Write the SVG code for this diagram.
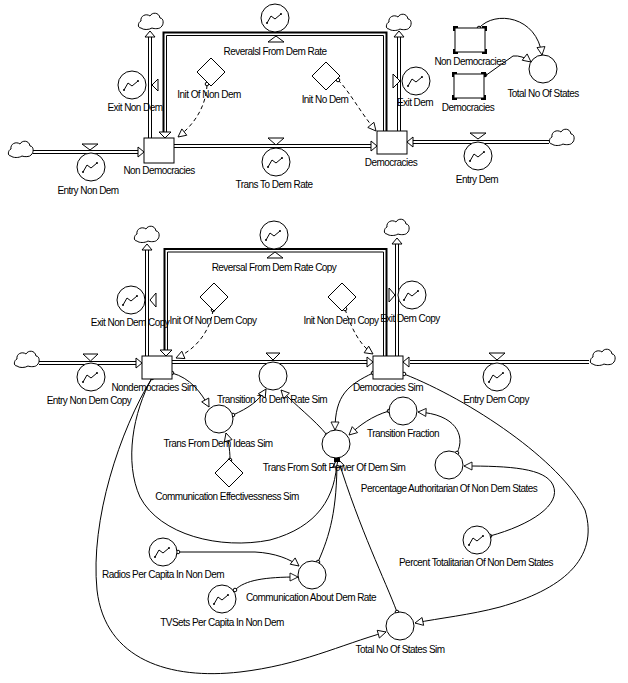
<svg xmlns="http://www.w3.org/2000/svg" xmlns:xlink="http://www.w3.org/1999/xlink" width="628" height="683" viewBox="0 0 628 683">
<style>
text{font-family:"Liberation Sans",Arial,sans-serif;font-size:10px;letter-spacing:-0.55px;text-anchor:middle;fill:#000}
.po{fill:none;stroke:#000;stroke-width:4}
.pi{fill:none;stroke:#fff;stroke-width:2}
.ro{fill:none;stroke:#000;stroke-width:2}
.ri{fill:none;stroke:#000;stroke-width:1}
.ah{fill:#fff;stroke:#000;stroke-width:1}
.stock{fill:#fff;stroke:#000;stroke-width:1}
.aux{fill:#fff;stroke:#000;stroke-width:1}
.cloud{fill:#fff;stroke:#000;stroke-width:1}
.c{fill:none;stroke:#000;stroke-width:1;marker-end:url(#arr)}
.d{fill:none;stroke:#000;stroke-width:1;stroke-dasharray:4 3;marker-end:url(#arr)}
.dot{fill:#fff;stroke:#000;stroke-width:1}
</style>
<defs>
<marker id="arr" viewBox="0 0 10 10" refX="10" refY="5" markerWidth="9" markerHeight="8" markerUnits="userSpaceOnUse" orient="auto" overflow="visible"><path d="M0,0 L10,5 L0,10 z" fill="#fff" stroke="#000" stroke-width="1.1"/></marker>
<g id="gr"><polyline points="-8,5 -4,-2 0,1 6,-4" fill="none" stroke="#000" stroke-width="1"/><circle cx="-8" cy="5" r="1" fill="#000"/><circle cx="6" cy="-4" r="1" fill="#000"/></g>
<path id="cl" d="M-10,7 C-14,7 -13,1 -10,0 C-11,-5 -5,-8 -1,-5 C1,-9 8,-9 9,-3 C13,-3 13,4 10,6 C9,8 3,8 1,7 C-2,9 -8,9 -10,7 Z"/>
<path id="p1" d="M33,152 H140"/>
<path id="p2" d="M150,138 V36"/>
<path id="p4" d="M174,146 H372"/>
<path id="p5" d="M399,131 V36"/>
<path id="p6" d="M549,142 H413"/>
<path id="q1" d="M39,363 H136"/>
<path id="q2" d="M147,356 V249"/>
<path id="q4" d="M172,362 H367"/>
<path id="q5" d="M397,356 V243"/>
<path id="q6" d="M589,362 H410"/>
</defs>
<rect width="628" height="683" fill="#fff"/>

<g id="flows">
<use href="#p1" class="po"/><use href="#p1" class="pi"/>
<use href="#p2" class="po"/><use href="#p2" class="pi"/>
<path class="ro" d="M386.5,131 V32.5 H163.5 V132"/><path class="ri" d="M383.5,131 V35.5 H166.5 V132"/>
<use href="#p4" class="po"/><use href="#p4" class="pi"/>
<use href="#p5" class="po"/><use href="#p5" class="pi"/>
<use href="#p6" class="po"/><use href="#p6" class="pi"/>
<use href="#q1" class="po"/><use href="#q1" class="pi"/>
<use href="#q2" class="po"/><use href="#q2" class="pi"/>
<path class="ro" d="M386.5,356 V249 H164.5 V350"/><path class="ri" d="M383.5,356 V252 H167.5 V350"/>
<use href="#q4" class="po"/><use href="#q4" class="pi"/>
<use href="#q5" class="po"/><use href="#q5" class="pi"/>
<use href="#q6" class="po"/><use href="#q6" class="pi"/>
<polygon class="ah" points="144,152 138,147 138,157"/>
<polygon class="ah" points="150,31 145,37 155,37"/>
<polygon class="ah" points="165,138 159,132 171,132"/>
<polygon class="ah" points="377,146 371,141 371,151"/>
<polygon class="ah" points="399,31 394,37 404,37"/>
<polygon class="ah" points="407,142 413,137 413,147"/>
<polygon class="ah" points="142,363 136,358 136,368"/>
<polygon class="ah" points="147,244 142,250 152,250"/>
<polygon class="ah" points="166,356 160,350 172,350"/>
<polygon class="ah" points="373,362 367,357 367,367"/>
<polygon class="ah" points="397,238 392,244 402,244"/>
<polygon class="ah" points="403,362 409,357 409,367"/>
</g>

<g id="connectors">
<path class="d" d="M207,85 C206,105 196,123 178,137"/>
<path class="d" d="M338,80 C350,92 360,112 376,131"/>
<path class="c" d="M479,28 C495,10 537,16 542,55"/>
<path class="c" d="M485,76 L513,56 Q522,55 531,62"/>
<path class="d" d="M213,310 C210,332 195,350 176,358"/>
<path class="d" d="M345,309 C352,330 360,345 373,354"/>
<path class="c" d="M172,373 C190,378 201,392 209,407"/>
<path class="c" d="M233,415 C248,408 258,402 266,389"/>
<path class="c" d="M230,460 C230,448 228,440 226,433"/>
<path class="c" d="M327,435 C315,420 295,405 281,390"/>
<path class="c" d="M373,373 C348,385 335,395 335,430"/>
<path class="c" d="M389,411 C372,416 360,425 349,435"/>
<path class="c" d="M457,453 C466,435 455,414 418,412"/>
<path class="c" d="M490,536 C530,525 562,505 553,485 C545,468 510,466 464,466"/>
<path class="c" d="M404,374 C470,400 560,460 585,510 C600,560 560,590 500,607 C470,615 440,618 415,623"/>
<path class="c" d="M152,378 C133,412 124,462 140,497 C160,535 220,550 270,540 C318,527 336,497 337,459"/>
<path class="c" d="M318,562 C330,535 337,510 337,459"/>
<path class="c" d="M397,612 C385,580 360,530 338,459"/>
<path class="c" d="M152,378 C120,430 90,520 97,590 C105,660 170,680 240,672 C300,665 340,645 386,632"/>
<path class="c" d="M178,552 L255,552 C275,553 290,559 299,566"/>
<path class="c" d="M235,590 C245,580 265,577 298,577"/>
<rect x="334" y="456" width="6" height="6" fill="#000"/>
<circle class="dot" cx="207" cy="84" r="1.8"/>
<circle class="dot" cx="338" cy="80" r="1.8"/>
<circle class="dot" cx="479" cy="28" r="1.8"/>
<circle class="dot" cx="485" cy="75" r="1.8"/>
<circle class="dot" cx="213" cy="310" r="1.8"/>
<circle class="dot" cx="345" cy="309" r="1.8"/>
<circle class="dot" cx="172" cy="373" r="1.8"/>
<circle class="dot" cx="152" cy="378" r="1.8"/>
<circle class="dot" cx="373" cy="373" r="1.8"/>
<circle class="dot" cx="404" cy="374" r="1.8"/>
<circle class="dot" cx="233" cy="415" r="1.8"/>
<circle class="dot" cx="230" cy="460" r="1.8"/>
<circle class="dot" cx="327" cy="435" r="1.8"/>
<circle class="dot" cx="389" cy="411" r="1.8"/>
<circle class="dot" cx="457" cy="453" r="1.8"/>
<circle class="dot" cx="490" cy="536" r="1.8"/>
<circle class="dot" cx="318" cy="562" r="1.8"/>
<circle class="dot" cx="397" cy="612" r="1.8"/>
<circle class="dot" cx="178" cy="552" r="1.8"/>
<circle class="dot" cx="235" cy="590" r="1.8"/>
</g>

<!-- clouds -->
<g id="cloud-entry-nondem"><use href="#cl" class="cloud" x="21" y="149"/></g>
<g id="cloud-exit-nondem"><use href="#cl" class="cloud" x="151" y="21"/></g>
<g id="cloud-exit-dem"><use href="#cl" class="cloud" x="399" y="22"/></g>
<g id="cloud-entry-dem"><use href="#cl" class="cloud" x="562" y="137"/></g>
<g id="cloud-entry-nondem-copy"><use href="#cl" class="cloud" x="27" y="359"/></g>
<g id="cloud-exit-nondem-copy"><use href="#cl" class="cloud" x="147" y="234"/></g>
<g id="cloud-exit-dem-copy"><use href="#cl" class="cloud" x="397" y="227"/></g>
<g id="cloud-entry-dem-copy"><use href="#cl" class="cloud" x="603" y="357"/></g>

<!-- top model -->
<g id="NonDemocracies"><rect class="stock" x="144" y="138" width="30" height="25"/><text x="159" y="174">Non Democracies</text></g>
<g id="Democracies"><rect class="stock" x="377" y="131" width="30" height="23"/><text x="391" y="166">Democracies</text></g>
<g id="EntryNonDem"><polygon class="ah" points="82,144 98,144 90,150"/><circle class="aux" cx="91" cy="167" r="14"/><use href="#gr" x="91" y="167"/><text x="88" y="194">Entry Non Dem</text></g>
<g id="ExitNonDem"><polygon class="ah" points="152,85 158,79 158,91"/><circle class="aux" cx="132" cy="85" r="14"/><use href="#gr" x="132" y="85"/><text x="135" y="111">Exit Non Dem</text></g>
<g id="ReveralslFromDemRate"><polygon class="ah" points="276,36 268,42 284,42"/><circle class="aux" cx="275" cy="18" r="14"/><use href="#gr" x="275" y="18"/><text x="275" y="55">Reveralsl From Dem Rate</text></g>
<g id="TransToDemRate"><polygon class="ah" points="268,138 284,138 276,145"/><circle class="aux" cx="276" cy="162" r="14"/><use href="#gr" x="276" y="162"/><text x="274" y="188">Trans To Dem Rate</text></g>
<g id="ExitDem"><polygon class="ah" points="393,74 393,88 400,81"/><circle class="aux" cx="416" cy="81" r="14"/><use href="#gr" x="416" y="81"/><text x="415" y="106">Exit Dem</text></g>
<g id="EntryDem"><polygon class="ah" points="470,133 486,133 478,139"/><circle class="aux" cx="478" cy="156" r="14"/><use href="#gr" x="478" y="156"/><text x="477" y="183">Entry Dem</text></g>
<g id="InitOfNonDem"><polygon class="aux" points="211,58 225,72 211,86 197,72"/><text x="209" y="98">Init Of Non Dem</text></g>
<g id="InitNoDem"><polygon class="aux" points="326,62 340,76 326,90 312,76"/><text x="325" y="103">Init No Dem</text></g>
<g id="GhostNonDemocracies"><rect class="stock" x="455" y="28" width="30" height="24"/><path d="M454,31 V27 H458 M482,27 H486 V31 M486,49 V53 H482 M458,53 H454 V49" fill="none" stroke="#000" stroke-width="2"/><text x="470" y="65">Non Democracies</text></g>
<g id="GhostDemocracies"><rect class="stock" x="454" y="74" width="30" height="24"/><path d="M453,77 V73 H457 M481,73 H485 V77 M485,95 V99 H481 M457,99 H453 V95" fill="none" stroke="#000" stroke-width="2"/><text x="468" y="111">Democracies</text></g>
<g id="TotalNoOfStates"><circle class="aux" cx="543" cy="69" r="14"/><text x="543" y="97">Total No Of States</text></g>

<!-- bottom model -->
<g id="NondemocraciesSim"><rect class="stock" x="142" y="356" width="30" height="23"/><text x="154" y="391">Nondemocracies Sim</text></g>
<g id="DemocraciesSim"><rect class="stock" x="373" y="356" width="30" height="23"/><text x="388" y="391">Democracies Sim</text></g>
<g id="EntryNonDemCopy"><polygon class="ah" points="83,354 98,354 90.5,361"/><circle class="aux" cx="91" cy="377" r="14"/><use href="#gr" x="91" y="377"/><text x="89" y="404">Entry Non Dem Copy</text></g>
<g id="ExitNonDemCopy"><polygon class="ah" points="150,300 156,293 156,307"/><circle class="aux" cx="131" cy="300" r="14"/><use href="#gr" x="131" y="300"/><text x="130" y="326">Exit Non Dem Copy</text></g>
<g id="ReversalFromDemRateCopy"><polygon class="ah" points="275,252 267,258 283,258"/><circle class="aux" cx="274" cy="235" r="14"/><use href="#gr" x="274" y="235"/><text x="274" y="271">Reversal From Dem Rate Copy</text></g>
<g id="TransitionToDemRateSim"><polygon class="ah" points="266,353 280,353 273,360"/><circle class="aux" cx="273" cy="376" r="14"/><text x="272" y="403">Transition To Dem Rate Sim</text></g>
<g id="ExitDemCopy"><polygon class="ah" points="389,288 389,302 395,295"/><circle class="aux" cx="412" cy="295" r="14"/><use href="#gr" x="412" y="295"/><text x="410" y="322">Exit Dem Copy</text></g>
<g id="EntryDemCopy"><polygon class="ah" points="489,353 505,353 497,360"/><circle class="aux" cx="497" cy="377" r="14"/><use href="#gr" x="497" y="377"/><text x="496" y="403">Entry Dem Copy</text></g>
<g id="InitOfNonDemCopy"><polygon class="aux" points="214,283 228,297 214,311 200,297"/><text x="213" y="324">Init Of Non Dem Copy</text></g>
<g id="InitNonDemCopy"><polygon class="aux" points="342,283 356,297 342,311 328,297"/><text x="341" y="324">Init Non Dem Copy</text></g>
<g id="TransFromDemIdeasSim"><circle class="aux" cx="219" cy="419" r="14"/><text x="218" y="447">Trans From Dem Ideas Sim</text></g>
<g id="CommunicationEffectivessnessSim"><polygon class="aux" points="229,459 243,473 229,487 215,473"/><text x="227" y="500">Communication Effectivessness Sim</text></g>
<g id="TransFromSoftPowerOfDemSim"><circle class="aux" cx="336" cy="444" r="14"/><text x="334" y="471">Trans From Soft Power Of Dem Sim</text></g>
<g id="TransitionFraction"><circle class="aux" cx="403" cy="411" r="14"/><text x="403" y="437">Transition Fraction</text></g>
<g id="PercentageAuthoritarianOfNonDemStates"><circle class="aux" cx="449" cy="465" r="14"/><text x="449" y="492">Percentage Authoritarian Of Non Dem States</text></g>
<g id="PercentTotalitarianOfNonDemStates"><circle class="aux" cx="477" cy="540" r="14"/><use href="#gr" x="477" y="540"/><text x="476" y="566">Percent Totalitarian Of Non Dem States</text></g>
<g id="RadiosPerCapitaInNonDem"><circle class="aux" cx="163" cy="552" r="14"/><use href="#gr" x="163" y="552"/><text x="163" y="578">Radios Per Capita In Non Dem</text></g>
<g id="TVSetsPerCapitaInNonDem"><circle class="aux" cx="222" cy="599" r="14"/><use href="#gr" x="222" y="599"/><text x="222" y="626">TVSets Per Capita In Non Dem</text></g>
<g id="CommunicationAboutDemRate"><circle class="aux" cx="312" cy="575" r="14"/><text x="311" y="601">Communication About Dem Rate</text></g>
<g id="TotalNoOfStatesSim"><circle class="aux" cx="400" cy="626" r="14"/><text x="400" y="653">Total No Of States Sim</text></g>
</svg>
